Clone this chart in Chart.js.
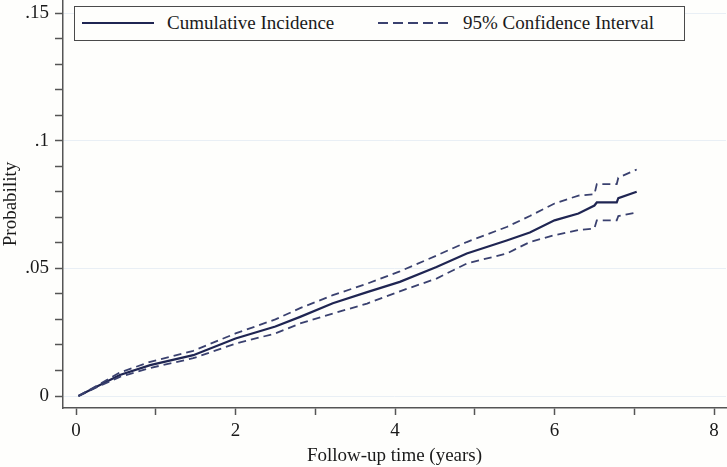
<!DOCTYPE html>
<html>
<head>
<meta charset="utf-8">
<script src="https://cdn.jsdelivr.net/npm/chart.js@4.4.1/dist/chart.umd.min.js"></script>
<style>
  html, body { margin: 0; padding: 0; background: #fefefc; }
  #wrap { position: relative; width: 727px; height: 467px; }
  #legend {
    position: absolute; left: 74px; top: 6px; width: 609px; height: 33px;
    border: 1.5px solid #4a4a4a; background: #fefefc;
    font-family: "Liberation Serif", "DejaVu Serif", serif; font-size: 19px; color: #1a1a1a;
  }
  #legend svg, #legend span { position: absolute; }
  #legend span { top: 5px; white-space: nowrap; }
</style>
</head>
<body>
<div id="wrap">
  <canvas id="myChart" width="727" height="467"></canvas>
  <div id="legend">
    <svg style="left:7px;top:14px" width="72" height="4"><line x1="0" y1="2" x2="72" y2="2" stroke="#1f2552" stroke-width="1.8"/></svg>
    <span style="left:92px">Cumulative Incidence</span>
    <svg style="left:303px;top:14px" width="72" height="4"><line x1="0" y1="2" x2="72" y2="2" stroke="#3a416f" stroke-width="1.8" stroke-dasharray="10,5"/></svg>
    <span style="left:388px">95% Confidence Interval</span>
  </div>
</div>
<script>
// follow-up time (years)
const times = [0.03, 0.3, 0.55, 0.93, 1.47, 2.0, 2.5, 2.81, 3.22, 3.65, 4.06, 4.52, 4.9, 5.4, 5.69, 6.0, 6.3, 6.5, 6.53, 6.78, 6.8, 7.03];
const cumInc = [0, 0.0043, 0.0082, 0.0121, 0.016, 0.0225, 0.0272, 0.031, 0.0363, 0.0407, 0.0447, 0.0505, 0.0558, 0.0609, 0.064, 0.0688, 0.0715, 0.0746, 0.0758, 0.0758, 0.0775, 0.080];
const ciUpper = [0, 0.0047, 0.0092, 0.0134, 0.0177, 0.0245, 0.030, 0.0344, 0.0395, 0.044, 0.0488, 0.055, 0.0603, 0.0662, 0.0705, 0.0754, 0.0785, 0.079, 0.083, 0.083, 0.0855, 0.0887];
const ciLower = [0, 0.004, 0.0075, 0.011, 0.0148, 0.0205, 0.0245, 0.0284, 0.0323, 0.0362, 0.041, 0.046, 0.0519, 0.0558, 0.0603, 0.063, 0.065, 0.0656, 0.0688, 0.0688, 0.0705, 0.0719];

const xTicks = [0, 1, 2, 3, 4, 5, 6, 7, 8];
const yTicks = [0, 0.01, 0.02, 0.03, 0.04, 0.05, 0.06, 0.07, 0.08, 0.09, 0.10, 0.11, 0.12, 0.13, 0.14, 0.15];

function pts(vals) {
    return times.map((t, i) => ({ x: t, y: vals[i] }));
}

const serif = "'Liberation Serif', 'DejaVu Serif', serif";
const axisColor = "#555555";

const data = {
    datasets: [{
            label: "95% Confidence Interval",
            data: pts(ciUpper),
            borderColor: "#3a416f",
            borderWidth: 1.8,
            borderDash: [8, 5],
            pointRadius: 0,
            tension: 0,
        },
        {
            label: "95% Confidence Interval (lower)",
            data: pts(ciLower),
            borderColor: "#3a416f",
            borderWidth: 1.8,
            borderDash: [8, 5],
            pointRadius: 0,
            tension: 0,
        },
        {
            label: "Cumulative Incidence",
            data: pts(cumInc),
            borderColor: "#1f2552",
            borderWidth: 2.2,
            pointRadius: 0,
            tension: 0,
        },
    ],
};

const config = {
    type: "line",
    data,
    options: {
        responsive: false,
        animation: false,
        layout: { padding: { top: 0, right: 1, left: 0, bottom: 0 } },
        plugins: {
            legend: { display: false },
            tooltip: { enabled: false },
        },
        scales: {
            x: {
                type: "linear",
                min: -0.163,
                max: 8.15,
                afterBuildTicks: (s) => { s.ticks = xTicks.map((v) => ({ value: v })); },
                afterFit: (s) => { s.height = 59; s.paddingLeft = 0; s.paddingRight = 0; },
                ticks: {
                    autoSkip: false,
                    maxRotation: 0,
                    padding: 5,
                    color: "#1a1a1a",
                    font: { family: serif, size: 19 },
                    callback: (v) => (v % 2 === 0 ? String(v) : ""),
                },
                grid: {
                    drawOnChartArea: false,
                    tickLength: 7,
                    tickColor: axisColor,
                    tickWidth: 1.5,
                },
                border: { color: axisColor, width: 1.5 },
                title: {
                    display: true,
                    text: "Follow-up time (years)",
                    color: "#1a1a1a",
                    font: { family: serif, size: 19 },
                    padding: { top: 0, bottom: 0 },
                },
            },
            y: {
                type: "linear",
                min: -0.0047,
                max: 0.1551,
                afterBuildTicks: (s) => { s.ticks = yTicks.map((v) => ({ value: v })); },
                afterFit: (s) => { s.width = 63; s.paddingTop = 0; s.paddingBottom = 0; },
                ticks: {
                    autoSkip: false,
                    padding: 6,
                    color: "#1a1a1a",
                    font: { family: serif, size: 19 },
                    callback: (v) => {
                        const c = Math.round(v * 100);
                        if (c % 5 !== 0) return "";
                        return c === 0 ? "0" : String(c / 100).replace(/^0\./, ".");
                    },
                },
                grid: {
                    color: (ctx) => (Math.round(ctx.tick.value * 100) % 5 === 0 ? "#e9eff5" : "rgba(0,0,0,0)"),
                    lineWidth: 1,
                    tickLength: 8,
                    tickColor: axisColor,
                    tickWidth: 1.5,
                },
                border: { color: axisColor, width: 1.5 },
                title: {
                    display: true,
                    text: "Probability",
                    color: "#1a1a1a",
                    font: { family: serif, size: 19 },
                    padding: { top: 0, bottom: 0 },
                },
            },
        },
    },
};

const myChart = new Chart(document.getElementById("myChart"), config);
</script>
</body>
</html>
